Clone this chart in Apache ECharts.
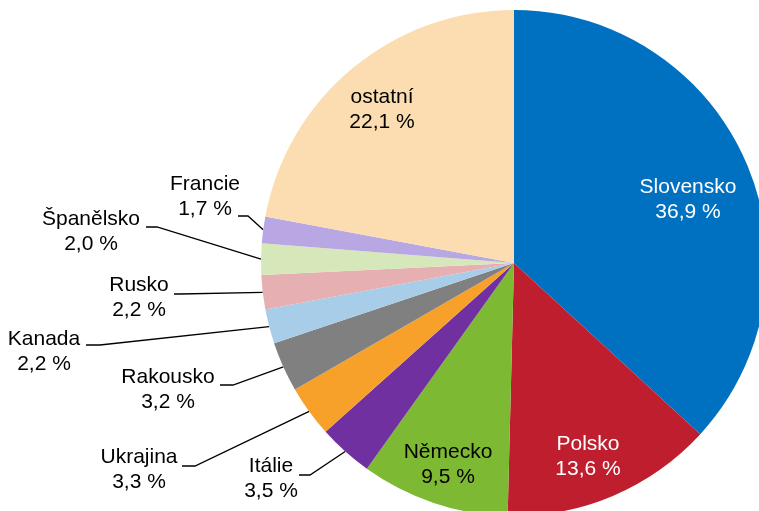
<!DOCTYPE html>
<html>
<head>
<meta charset="utf-8">
<script src="https://cdn.jsdelivr.net/npm/echarts@6/dist/echarts.min.js"></script>
<style>
  html, body { margin: 0; padding: 0; background: #fff; }
  #main { width: 759px; height: 511px; }
</style>
</head>
<body>
<div id="main"></div>
<script>
// data
const countries = ["Slovensko", "Polsko", "Německo", "Itálie", "Ukrajina", "Rakousko", "Kanada", "Rusko", "Španělsko", "Francie", "ostatní"];
const shares = [36.9, 13.6, 9.5, 3.5, 3.3, 3.2, 2.2, 2.2, 2.0, 1.7, 22.1];
const colors = ["#0070C0", "#BE1E2D", "#7DB932", "#7030A0", "#F7A12A", "#808080", "#A8CDE8", "#E6B0B2", "#D6E7B9", "#B9A7E4", "#FBDDB1"];

// where each label sits: [centre x, centre y], plus the leader-line bend/end for the outside ones
const labelPos = {
    "Slovensko": { at: [688, 200] },
    "Polsko":    { at: [588, 457], },
    "Německo":   { at: [448, 465] },
    "ostatní":   { at: [382, 110] },
    "Francie":   { at: [205, 197], line: [[248, 216], [238, 216]] },
    "Španělsko": { at: [91, 232],  line: [[157, 227], [146, 227]] },
    "Rusko":     { at: [139, 298], line: [[180, 294], [174, 294]] },
    "Kanada":    { at: [44, 352],  line: [[100, 345], [86, 345]] },
    "Rakousko":  { at: [168, 390], line: [[233, 385], [220, 385]] },
    "Ukrajina":  { at: [139, 470], line: [[195, 466], [182, 466]] },
    "Itálie":    { at: [271, 479], line: [[310, 475], [299, 475]] }
};
const whiteText = ["Slovensko", "Polsko"];

const mainEl = document.getElementById("main");
const chart = echarts.init(mainEl);

const pieData = countries.map((name, i) => {
    const inside = !labelPos[name].line;
    return {
        name: name,
        value: shares[i],
        itemStyle: { color: colors[i] },
        label: {
            position: inside ? "inside" : "outside",
            color: whiteText.includes(name) ? "#fff" : "#000"
        },
        labelLine: { show: !inside }
    };
});

const option = {
    animation: false,
    series: [
        {
            type: "pie",
            center: [514, 263],
            radius: 253,
            startAngle: 90,
            clockwise: true,
            avoidLabelOverlap: false,
            data: pieData,
            itemStyle: { borderWidth: 0 },
            label: {
                fontFamily: "Liberation Sans, Arial, sans-serif",
                fontSize: 21,
                lineHeight: 25,
                align: "center",
                formatter: (p) => p.name + "\n" + p.value.toFixed(1).replace(".", ",") + " %"
            },
            labelLine: {
                length: 10,
                length2: 10,
                lineStyle: { color: "#000", width: 1.3 }
            },
            labelLayout: function (params) {
                const name = countries[params.dataIndex];
                const pos = labelPos[name];
                const out = {
                    x: pos.at[0],
                    y: pos.at[1],
                    align: "center",
                    verticalAlign: "middle"
                };
                if (pos.line && params.labelLinePoints) {
                    const start = params.labelLinePoints[0];
                    out.labelLinePoints = [[start[0], start[1]], pos.line[0], pos.line[1]];
                }
                return out;
            }
        }
    ]
};

chart.setOption(option);
</script>
</body>
</html>
